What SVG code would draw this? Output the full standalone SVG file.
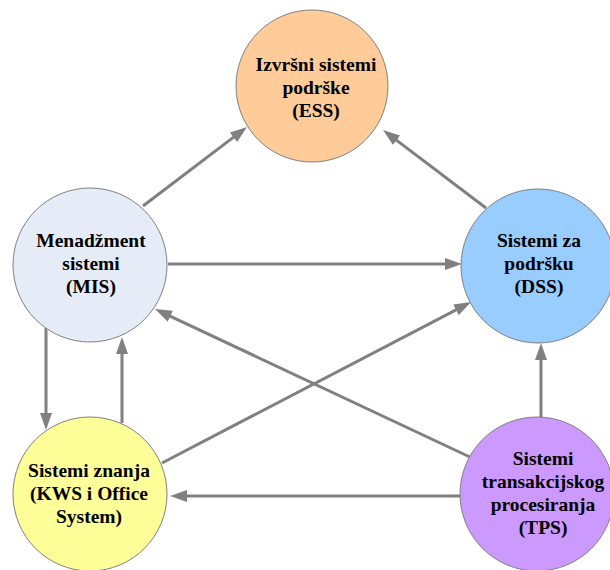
<svg xmlns="http://www.w3.org/2000/svg" width="610" height="570" viewBox="0 0 610 570">
  <style>
    .node { stroke: #808080; stroke-width: 1; }
    .label { font-family: "Liberation Serif", "Times New Roman", serif; font-weight: bold; font-size: 19.5px; fill: #000; text-anchor: middle; }
    .conn { stroke: #808080; stroke-width: 3; fill: none; marker-end: url(#arrow); }
  </style>
  <defs>
    <marker id="arrow" markerUnits="userSpaceOnUse" markerWidth="17" markerHeight="12" refX="11" refY="6" orient="auto">
      <path d="M0,0 L17,6 L0,12 z" fill="#808080"/>
    </marker>
  </defs>

  <rect width="610" height="570" fill="#ffffff"/>

  <!-- connectors -->
  <g id="connectors">
    <path class="conn" d="M143,206 L242.2,130.6"/>
    <path class="conn" d="M486,208 L387.8,133.6"/>
    <path class="conn" d="M168,264 L456,264"/>
    <path class="conn" d="M46,328 L46,424"/>
    <path class="conn" d="M122,423 L122,343"/>
    <path class="conn" d="M472,458 L160.4,311.6"/>
    <path class="conn" d="M162,463 L465.7,304.8"/>
    <path class="conn" d="M541,418 L541,349"/>
    <path class="conn" d="M462,496 L176,496"/>
  </g>

  <!-- Executive support systems -->
  <g id="ess">
    <circle class="node" cx="312" cy="86" r="76" fill="#FFCC99"/>
    <text class="label" x="316" y="71">Izvršni sistemi</text>
    <text class="label" x="316" y="94">podrške</text>
    <text class="label" x="316" y="117">(ESS)</text>
  </g>

  <!-- Management information systems -->
  <g id="mis">
    <circle class="node" cx="90" cy="265" r="77" fill="#E6ECF7"/>
    <text class="label" x="91" y="247">Menadžment</text>
    <text class="label" x="91" y="270">sistemi</text>
    <text class="label" x="91" y="293">(MIS)</text>
  </g>

  <!-- Decision support systems -->
  <g id="dss">
    <circle class="node" cx="538" cy="266" r="77" fill="#99CCFF"/>
    <text class="label" x="539" y="247">Sistemi za</text>
    <text class="label" x="539" y="270">podršku</text>
    <text class="label" x="539" y="293">(DSS)</text>
  </g>

  <!-- Knowledge work systems -->
  <g id="kws">
    <circle class="node" cx="90" cy="494" r="77" fill="#FFFF99"/>
    <text class="label" x="89" y="477">Sistemi znanja</text>
    <text class="label" x="89" y="500">(KWS i Office</text>
    <text class="label" x="89" y="523">System)</text>
  </g>

  <!-- Transaction processing systems -->
  <g id="tps">
    <circle class="node" cx="537" cy="494" r="77" fill="#CC99FF"/>
    <text class="label" x="543" y="465">Sistemi</text>
    <text class="label" x="543" y="488">transakcijskog</text>
    <text class="label" x="543" y="511">procesiranja</text>
    <text class="label" x="543" y="534">(TPS)</text>
  </g>
</svg>
